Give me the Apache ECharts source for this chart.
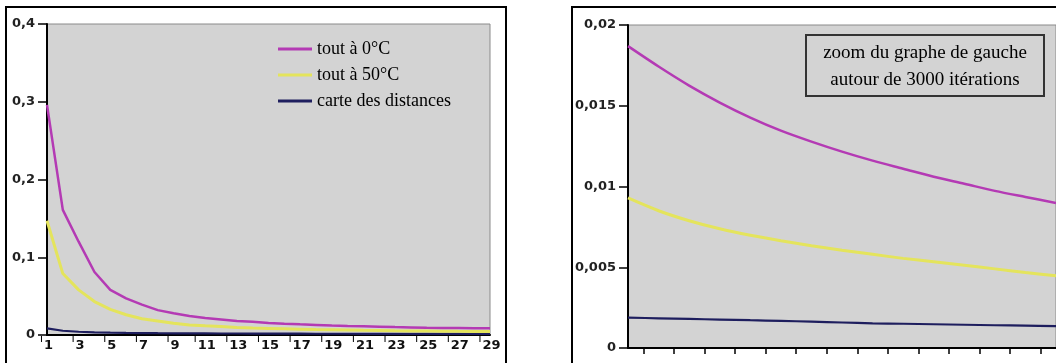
<!DOCTYPE html>
<html>
<head>
<meta charset="utf-8">
<script src="https://cdn.jsdelivr.net/npm/echarts@6/dist/echarts.min.js"></script>
<style>
html,body{margin:0;padding:0;background:#fff;}
#c{width:1056px;height:363px;}
</style>
</head>
<body>
<div id="c"></div>
<script>
// ---- data ----
const seriesNames = ['tout à 0°C', 'tout à 50°C', 'carte des distances'];
const leftCats = ['1','2','3','4','5','6','7','8','9','10','11','12','13','14','15','16','17','18','19','20','21','22','23','24','25','26','27','28','29'];
const leftPink   = [0.296,0.161,0.120,0.081,0.058,0.047,0.039,0.032,0.028,0.0245,0.022,0.020,0.018,0.017,0.0155,0.0145,0.0137,0.013,0.0123,0.0117,0.0112,0.0107,0.0102,0.0098,0.0094,0.0091,0.0089,0.0087,0.0086];
const leftYellow = [0.147,0.079,0.058,0.043,0.033,0.026,0.021,0.018,0.015,0.013,0.0118,0.0108,0.0098,0.009,0.0085,0.008,0.0075,0.007,0.0067,0.0064,0.006,0.0058,0.0055,0.0053,0.0051,0.0049,0.0047,0.0046,0.0044];
const leftBlue   = [0.0085,0.0055,0.0042,0.0035,0.003,0.0027,0.0025,0.0023,0.0022,0.0021,0.002,0.0019,0.0019,0.0018,0.0018,0.0017,0.0017,0.0016,0.0016,0.0016,0.0015,0.0015,0.0015,0.0014,0.0014,0.0014,0.0014,0.0013,0.0013];
const leftYLabels = ['0','0,1','0,2','0,3','0,4'];

const rightCats = ['a0','a1','a2','a3','a4','a5','a6','a7','a8','a9','a10','a11','a12','a13','a14'];
const rightTickCats = ['t1','t2','t3','t4','t5','t6','t7','t8','t9','t10','t11','t12','t13','t14'];
const rightPink   = [0.01869,0.01743,0.01625,0.01520,0.01427,0.01346,0.01278,0.01216,0.01160,0.01110,0.01060,0.01017,0.00973,0.00935,0.00898];
const rightYellow = [0.00929,0.00850,0.00788,0.00738,0.00698,0.00664,0.00633,0.00605,0.00580,0.00555,0.00534,0.00512,0.00490,0.00468,0.00447];
const rightBlue   = [0.00188,0.00184,0.00180,0.00176,0.00172,0.00168,0.00163,0.00158,0.00153,0.00150,0.00147,0.00144,0.00141,0.00138,0.00135];
const rightYLabels = ['0','0,005','0,01','0,015','0,02'];
const noteLines = ['zoom du graphe de gauche', 'autour de 3000 itérations'];

// ---- styles ----
const colors = ['#b43ab4', '#e4e45c', '#1e1e5e'];
const widths = [2.5, 3, 2.2];
const gridBg = '#d3d3d3';
const axisFont = 'DejaVu Sans';
const serif = 'Liberation Serif';

const chart = echarts.init(document.getElementById('c'), null, {renderer: 'canvas'});

function mkSeries(data, i, xi, yi, smooth) {
  return {
    name: seriesNames[i], type: 'line', data: data,
    xAxisIndex: xi, yAxisIndex: yi, symbol: 'none', smooth: smooth,
    lineStyle: {color: colors[i], width: widths[i]},
    itemStyle: {color: colors[i]},
    z: 3 - i + 2
  };
}

const option = {
  animation: false,
  backgroundColor: '#fff',
  grid: [
    {left: 47, top: 24, width: 443, height: 311, show: true, backgroundColor: gridBg, borderColor: '#8a8a8a', borderWidth: 1},
    {left: 628, top: 25, width: 428, height: 323, show: true, backgroundColor: gridBg, borderColor: '#8a8a8a', borderWidth: 1}
  ],
  legend: {
    data: seriesNames,
    orient: 'vertical',
    left: 278, top: 40,
    padding: 0,
    itemGap: 8,
    itemWidth: 34, itemHeight: 3,
    icon: 'rect',
    textStyle: {fontFamily: serif, fontSize: 18, color: '#000'}
  },
  xAxis: [
    {
      type: 'category', gridIndex: 0, data: leftCats, boundaryGap: false, position: 'bottom',
      axisLine: {lineStyle: {color: '#000', width: 2}},
      axisTick: {show: false},
      splitLine: {show: false},
      axisLabel: {
        interval: 1, margin: 1,
        formatter: function (v) { return '{t|}{v|' + v + '}'; },
        rich: {
          t: {width: 1, height: 6, backgroundColor: '#000', verticalAlign: 'top'},
          v: {fontFamily: axisFont, fontSize: 13, fontWeight: 'bold', color: '#111', padding: [3, 0, 0, 2], verticalAlign: 'top'}
        }
      }
    },
    {
      type: 'category', gridIndex: 1, data: rightCats, boundaryGap: false, show: false, position: 'bottom'
    },
    {
      type: 'category', gridIndex: 1, data: rightTickCats, boundaryGap: true, position: 'bottom', offset: 0,
      axisLine: {lineStyle: {color: '#000', width: 2}},
      axisTick: {show: true, alignWithLabel: true, interval: 0, length: 6, lineStyle: {color: '#000', width: 1.5}},
      axisLabel: {show: false},
      splitLine: {show: false}
    }
  ],
  yAxis: [
    {
      type: 'value', gridIndex: 0, min: 0, max: 0.4, interval: 0.1,
      axisLine: {show: true, lineStyle: {color: '#000', width: 2}},
      axisTick: {show: true, length: 9, lineStyle: {color: '#000', width: 1.5}},
      splitLine: {show: false},
      axisLabel: {margin: 12, fontFamily: axisFont, fontSize: 13, fontWeight: 'bold', color: '#222',
        formatter: function (v, i) { return leftYLabels[Math.round(v / 0.1)]; }}
    },
    {
      type: 'value', gridIndex: 1, min: 0, max: 0.02, interval: 0.005,
      axisLine: {show: true, lineStyle: {color: '#000', width: 2}},
      axisTick: {show: true, length: 9, lineStyle: {color: '#000', width: 1.5}},
      splitLine: {show: false},
      axisLabel: {margin: 12, fontFamily: axisFont, fontSize: 13, fontWeight: 'bold', color: '#222',
        formatter: function (v, i) { return rightYLabels[Math.round(v / 0.005)]; }}
    }
  ],
  series: [
    mkSeries(leftPink, 0, 0, 0, false),
    mkSeries(leftYellow, 1, 0, 0, false),
    mkSeries(leftBlue, 2, 0, 0, false),
    mkSeries(rightPink, 0, 1, 1, 0.3),
    mkSeries(rightYellow, 1, 1, 1, 0.3),
    mkSeries(rightBlue, 2, 1, 1, 0.3)
  ],
  graphic: [
    {type: 'rect', shape: {x: 6, y: 7, width: 500, height: 380}, style: {fill: 'none', stroke: '#000', lineWidth: 2}, silent: true},
    {type: 'rect', shape: {x: 572, y: 7, width: 500, height: 380}, style: {fill: 'none', stroke: '#000', lineWidth: 2}, silent: true},
    {type: 'rect', shape: {x: 806, y: 35, width: 238, height: 61}, style: {fill: gridBg, stroke: '#333', lineWidth: 2}, z: 10},
    {type: 'text', x: 925, y: 53, z: 11, style: {text: noteLines[0], fontFamily: serif, fontSize: 19, fill: '#000', align: 'center', verticalAlign: 'middle'}},
    {type: 'text', x: 925, y: 80, z: 11, style: {text: noteLines[1], fontFamily: serif, fontSize: 19, fill: '#000', align: 'center', verticalAlign: 'middle'}}
  ]
};
chart.setOption(option);
</script>
</body>
</html>
